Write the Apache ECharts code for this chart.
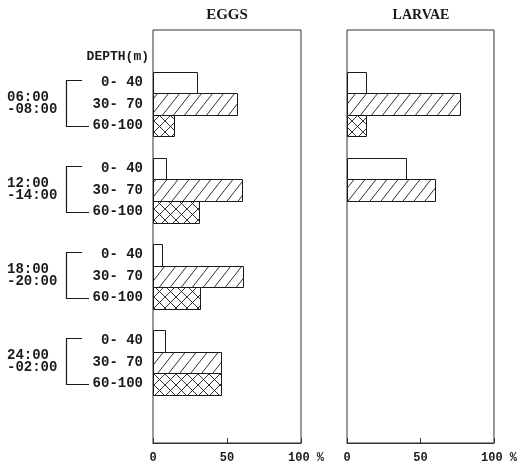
<!DOCTYPE html>
<html>
<head>
<meta charset="utf-8">
<script src="https://cdn.jsdelivr.net/npm/echarts@6/dist/echarts.min.js"></script>
<style>
  html, body { margin: 0; padding: 0; background: #fff; }
  #chart { width: 520px; height: 466px; }
</style>
</head>
<body>
<div id="chart"></div>
<script>
// ---- data ----
const panelTitles = ['EGGS', 'LARVAE'];
const timeLabels = ['06:00\n-08:00', '12:00\n-14:00', '18:00\n-20:00', '24:00\n-02:00'];
const depthLabels = ['0- 40', '30- 70', '60-100'];
const depthAxisName = 'DEPTH(m)';
// percentage per time group, ordered by depth layer (0-40, 30-70, 60-100)
const eggs   = [[30, 57, 14], [9, 60, 31], [6, 61, 32], [8, 46, 46]];
const larvae = [[13, 77, 13], [40, 60, 0], [0, 0, 0], [0, 0, 0]];
const xTicks = [0, 50, 100];

// ---- layout helpers (not data) ----
const ROWS = 19.2;        // vertical extent of each panel in row units
const FIRST_ROW = 1.95;   // first bar row
const GROUP_STEP = 4;     // 3 depth rows + 1 gap row
const INK = '#1a1a1a';
const MONO = '"Liberation Mono", "DejaVu Sans Mono", monospace';
const SERIF = '"Liberation Serif", "DejaVu Serif", serif';

function makePattern(kind) {
  const w = 11;
  const h = kind === 'diag' ? 14 : 11;
  const c = document.createElement('canvas');
  c.width = w; c.height = h;
  const ctx = c.getContext('2d');
  ctx.fillStyle = '#fff';
  ctx.fillRect(0, 0, w, h);
  ctx.strokeStyle = INK;
  ctx.lineWidth = 0.9;
  ctx.beginPath();
  ctx.moveTo(-w, 2 * h); ctx.lineTo(2 * w, -h);
  ctx.moveTo(-w * 2, 2 * h); ctx.lineTo(w, -h);
  ctx.moveTo(0, 2 * h); ctx.lineTo(3 * w, -h);
  if (kind === 'cross') {
    ctx.moveTo(-w, -h); ctx.lineTo(2 * w, 2 * h);
    ctx.moveTo(-2 * w, -h); ctx.lineTo(w, 2 * h);
    ctx.moveTo(0, -h); ctx.lineTo(3 * w, 2 * h);
  }
  ctx.stroke();
  return { image: c, repeat: 'repeat' };
}
const fills = ['#fff', makePattern('diag'), makePattern('cross')];

function buildData(arr) {
  const out = [];
  arr.forEach((grp, g) => grp.forEach((v, d) => {
    out.push([FIRST_ROW + GROUP_STEP * g + d, v, d]);
  }));
  return out;
}

function barRender(params, api) {
  const row = api.value(0), val = api.value(1), d = api.value(2);
  if (!val) return null;
  const p0 = api.coord([0, row]);
  const p1 = api.coord([val, row + 1]);
  const x0 = Math.round(p0[0]) + 0.5, y0 = Math.round(p0[1]) + 0.5;
  const x1 = Math.round(p1[0]) + 0.5, y1 = Math.round(p1[1]) + 0.5;
  return {
    type: 'rect',
    shape: { x: x0, y: y0, width: x1 - x0, height: y1 - y0 },
    style: { fill: fills[d], stroke: INK, lineWidth: 1 }
  };
}

function labelRender(params, api) {
  const g = api.value(0);
  const r0 = FIRST_ROW + GROUP_STEP * g;
  const left = api.coord([0, r0])[0];
  const yc = i => api.coord([0, r0 + i + 0.5])[1];
  const children = [];
  depthLabels.forEach((t, i) => {
    children.push({
      type: 'text',
      style: { text: t, x: left - 10, y: yc(i), align: 'right', verticalAlign: 'middle',
               font: 'bold 14px ' + MONO, fill: INK }
    });
  });
  children.push({
    type: 'text',
    style: { text: timeLabels[g], x: left - 146, y: (yc(0) + yc(2)) / 2 - 1,
             align: 'left', verticalAlign: 'middle', lineHeight: 12,
             font: 'bold 14px ' + MONO, fill: INK }
  });
  const bx = Math.round(left - 87) + 0.5;
  const ty = Math.round(yc(0) - 3) + 0.5;
  const by = Math.round(yc(2)) + 0.5;
  children.push({
    type: 'polyline',
    shape: { points: [[left - 71, ty], [bx, ty], [bx, by], [left - 64, by]] },
    style: { stroke: INK, lineWidth: 1.2, fill: null }
  });
  return { type: 'group', children };
}

const chart = echarts.init(document.getElementById('chart'), null, { renderer: 'canvas' });

const grids = [
  { left: 153, top: 30, width: 148, height: 413 },
  { left: 347, top: 30, width: 148, height: 413 }
];

const option = {
  backgroundColor: '#fff',
  animation: false,
  grid: grids.map(g => Object.assign({
    show: true, borderColor: '#333', borderWidth: 1, backgroundColor: 'transparent',
    containLabel: false
  }, g)),
  xAxis: grids.map((g, i) => ({
    type: 'value', gridIndex: i, position: 'bottom',
    min: xTicks[0], max: xTicks[xTicks.length - 1],
    interval: xTicks[1] - xTicks[0],
    axisLine: { show: true, onZero: false, lineStyle: { color: '#333', width: 1 } },
    axisTick: { show: true, inside: true, length: 5, lineStyle: { color: '#333' } },
    splitLine: { show: false },
    axisLabel: {
      margin: 9, color: INK, fontFamily: MONO, fontWeight: 'bold', fontSize: 12,
      formatter: v => v === xTicks[xTicks.length - 1] ? '{p|' + v + ' %}' : String(v),
      rich: { p: { padding: [0, 0, 0, 10], color: INK, fontFamily: MONO, fontWeight: 'bold', fontSize: 12 } }
    }
  })),
  yAxis: grids.map((g, i) => ({
    type: 'value', gridIndex: i, min: 0, max: ROWS, inverse: true, show: false
  })),
  graphic: [
    { type: 'text', x: 227, y: 15, style: { text: panelTitles[0], align: 'center', verticalAlign: 'middle',
      font: 'bold 15px ' + SERIF, fill: INK } },
    { type: 'text', x: 421, y: 15, style: { text: panelTitles[1], align: 'center', verticalAlign: 'middle',
      font: 'bold 14px ' + SERIF, fill: INK } },
    { type: 'text', x: 149, y: 57, style: { text: depthAxisName, align: 'right', verticalAlign: 'middle',
      font: 'bold 13px ' + MONO, fill: INK } }
  ],
  series: [
    { type: 'custom', name: 'EGGS', xAxisIndex: 0, yAxisIndex: 0, clip: false,
      data: buildData(eggs), renderItem: barRender },
    { type: 'custom', name: 'LARVAE', xAxisIndex: 1, yAxisIndex: 1, clip: false,
      data: buildData(larvae), renderItem: barRender },
    { type: 'custom', name: 'labels', xAxisIndex: 0, yAxisIndex: 0, clip: false, silent: true,
      data: timeLabels.map((t, g) => [g]), renderItem: labelRender }
  ]
};
chart.setOption(option);
</script>
</body>
</html>
